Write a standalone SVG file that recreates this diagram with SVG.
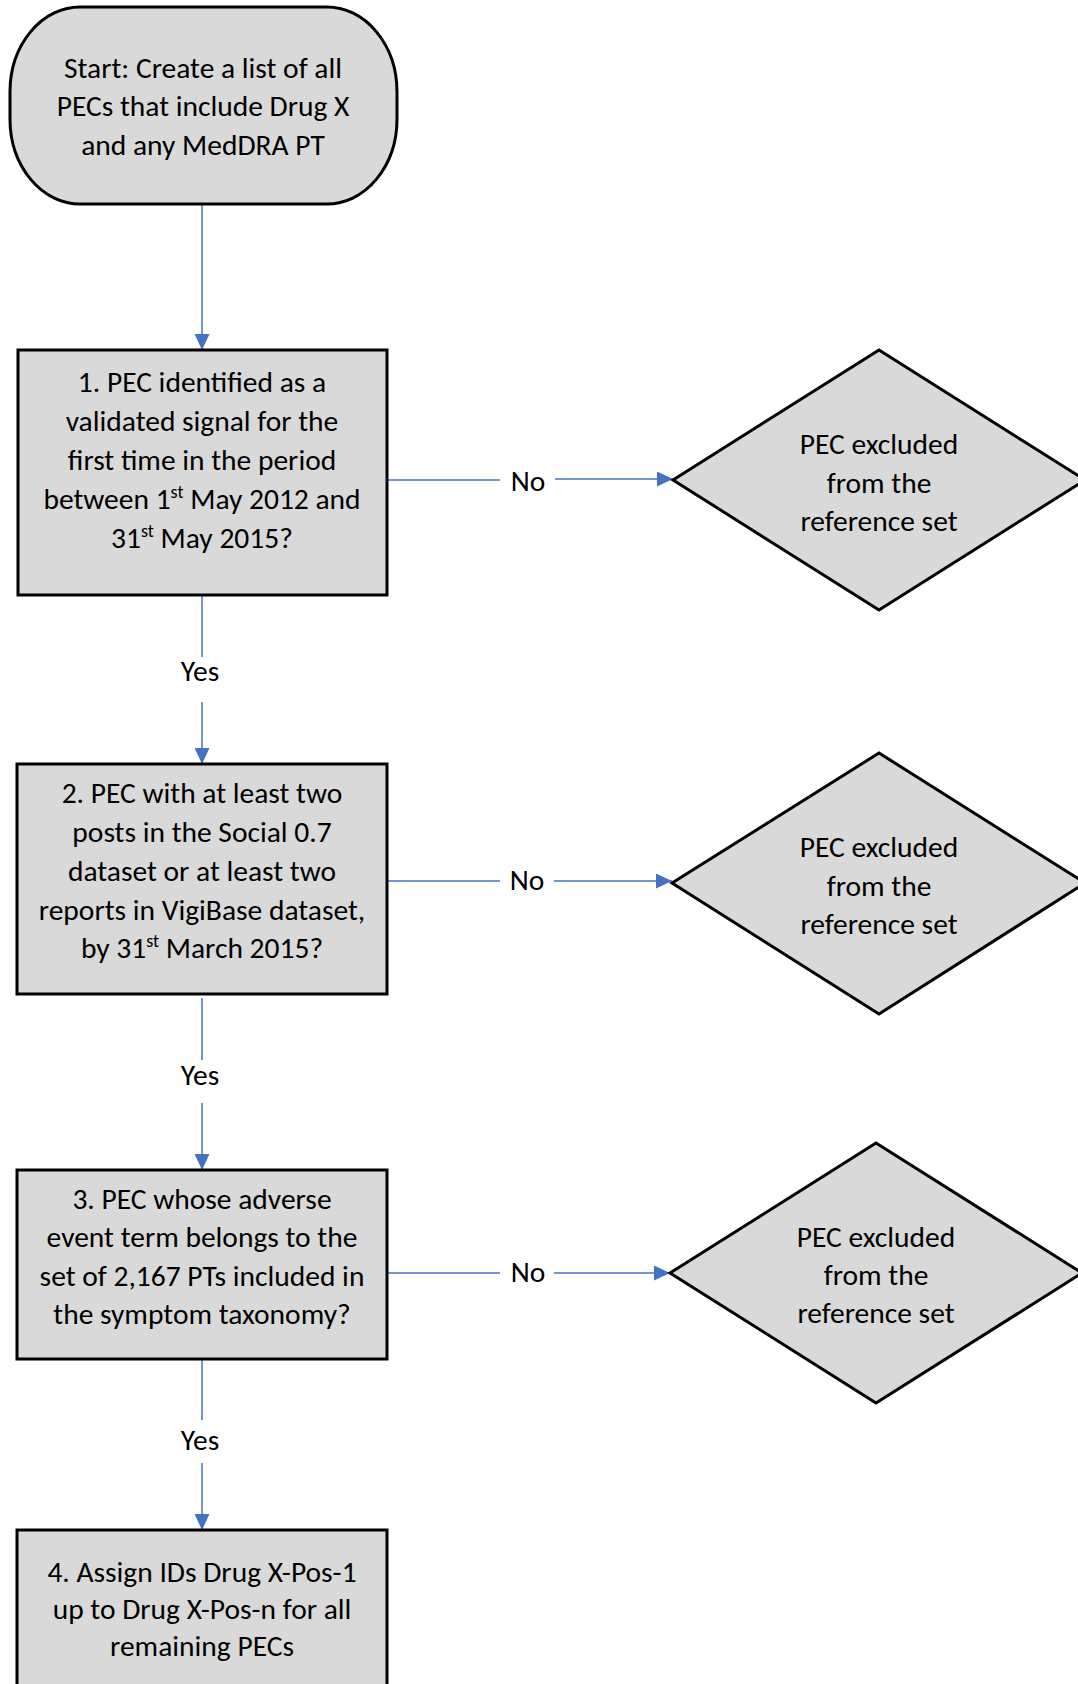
<svg xmlns="http://www.w3.org/2000/svg" width="1078" height="1684" viewBox="0 0 1078 1684">
  <style>
    .shape { fill: #d9d9d9; stroke: #000000; stroke-width: 3; }
    .t { font-family: Carlito, Lato, "Liberation Sans", sans-serif; font-size: 29.5px; fill: #000000; text-anchor: middle; }
    .sup { font-size: 18px; }
    .conn { stroke: #4472c4; stroke-width: 1.5; fill: none; }
  </style>
  <defs>
    <marker id="arrow" markerUnits="userSpaceOnUse" markerWidth="16" markerHeight="15" refX="16" refY="7.5" orient="auto">
      <path d="M0,0 L16,7.5 L0,15 Z" fill="#4472c4"/>
    </marker>
  </defs>
  <rect width="1078" height="1684" fill="#ffffff"/>

  <g id="connectors">
    <line class="conn" x1="202" y1="204" x2="202" y2="350" marker-end="url(#arrow)"/>
    <line class="conn" x1="387" y1="480" x2="500" y2="480"/>
    <line class="conn" x1="555" y1="479" x2="673" y2="479" marker-end="url(#arrow)"/>
    <text class="t" x="528" y="491">No</text>
    <line class="conn" x1="202" y1="595" x2="202" y2="657"/>
    <line class="conn" x1="202" y1="702" x2="202" y2="764" marker-end="url(#arrow)"/>
    <text class="t" x="200" y="681">Yes</text>
    <line class="conn" x1="387" y1="881" x2="500" y2="881"/>
    <line class="conn" x1="554" y1="881" x2="672" y2="881" marker-end="url(#arrow)"/>
    <text class="t" x="527" y="890">No</text>
    <line class="conn" x1="202" y1="998" x2="202" y2="1060"/>
    <line class="conn" x1="202" y1="1103" x2="202" y2="1170" marker-end="url(#arrow)"/>
    <text class="t" x="200" y="1085">Yes</text>
    <line class="conn" x1="387" y1="1273" x2="500" y2="1273"/>
    <line class="conn" x1="554" y1="1273" x2="670" y2="1273" marker-end="url(#arrow)"/>
    <text class="t" x="528" y="1282">No</text>
    <line class="conn" x1="202" y1="1359" x2="202" y2="1420"/>
    <line class="conn" x1="202" y1="1463" x2="202" y2="1530" marker-end="url(#arrow)"/>
    <text class="t" x="200" y="1450">Yes</text>
  </g>

  <g id="start">
    <rect class="shape" x="10" y="7" width="387" height="197" rx="70" ry="85"/>
    <text class="t" x="203" y="78">Start: Create a list of all</text>
    <text class="t" x="203" y="116">PECs that include Drug X</text>
    <text class="t" x="203" y="155">and any MedDRA PT</text>
  </g>

  <g id="step1">
    <rect class="shape" x="18" y="350" width="369" height="245"/>
    <text class="t" x="202" y="392">1. PEC identified as a</text>
    <text class="t" x="202" y="431">validated signal for the</text>
    <text class="t" x="202" y="470">first time in the period</text>
    <text class="t" x="202" y="509">between 1<tspan class="sup" dy="-11">st</tspan><tspan dy="11"> May 2012 and</tspan></text>
    <text class="t" x="202" y="548">31<tspan class="sup" dy="-11">st</tspan><tspan dy="11"> May 2015?</tspan></text>
  </g>

  <g id="excluded1">
    <polygon class="shape" points="673,480 879,350 1085,480 879,610"/>
    <text class="t" x="879" y="454">PEC excluded</text>
    <text class="t" x="879" y="493">from the</text>
    <text class="t" x="879" y="531">reference set</text>
  </g>

  <g id="step2">
    <rect class="shape" x="17" y="764" width="370" height="230"/>
    <text class="t" x="202" y="803">2. PEC with at least two</text>
    <text class="t" x="202" y="842">posts in the Social 0.7</text>
    <text class="t" x="202" y="881">dataset or at least two</text>
    <text class="t" x="202" y="920">reports in VigiBase dataset,</text>
    <text class="t" x="202" y="958">by 31<tspan class="sup" dy="-11">st</tspan><tspan dy="11"> March 2015?</tspan></text>
  </g>

  <g id="excluded2">
    <polygon class="shape" points="672,883 879,753 1085,883 879,1014"/>
    <text class="t" x="879" y="857">PEC excluded</text>
    <text class="t" x="879" y="896">from the</text>
    <text class="t" x="879" y="934">reference set</text>
  </g>

  <g id="step3">
    <rect class="shape" x="17" y="1170" width="370" height="189"/>
    <text class="t" x="202" y="1209">3. PEC whose adverse</text>
    <text class="t" x="202" y="1247">event term belongs to the</text>
    <text class="t" x="202" y="1286">set of 2,167 PTs included in</text>
    <text class="t" x="202" y="1324">the symptom taxonomy?</text>
  </g>

  <g id="excluded3">
    <polygon class="shape" points="670,1273 876,1143 1082,1273 876,1403"/>
    <text class="t" x="876" y="1247">PEC excluded</text>
    <text class="t" x="876" y="1285">from the</text>
    <text class="t" x="876" y="1323">reference set</text>
  </g>

  <g id="step4">
    <rect class="shape" x="17" y="1530" width="370" height="200"/>
    <text class="t" x="202" y="1582">4. Assign IDs Drug X-Pos-1</text>
    <text class="t" x="202" y="1619">up to Drug X-Pos-n for all</text>
    <text class="t" x="202" y="1656">remaining PECs</text>
  </g>
</svg>
